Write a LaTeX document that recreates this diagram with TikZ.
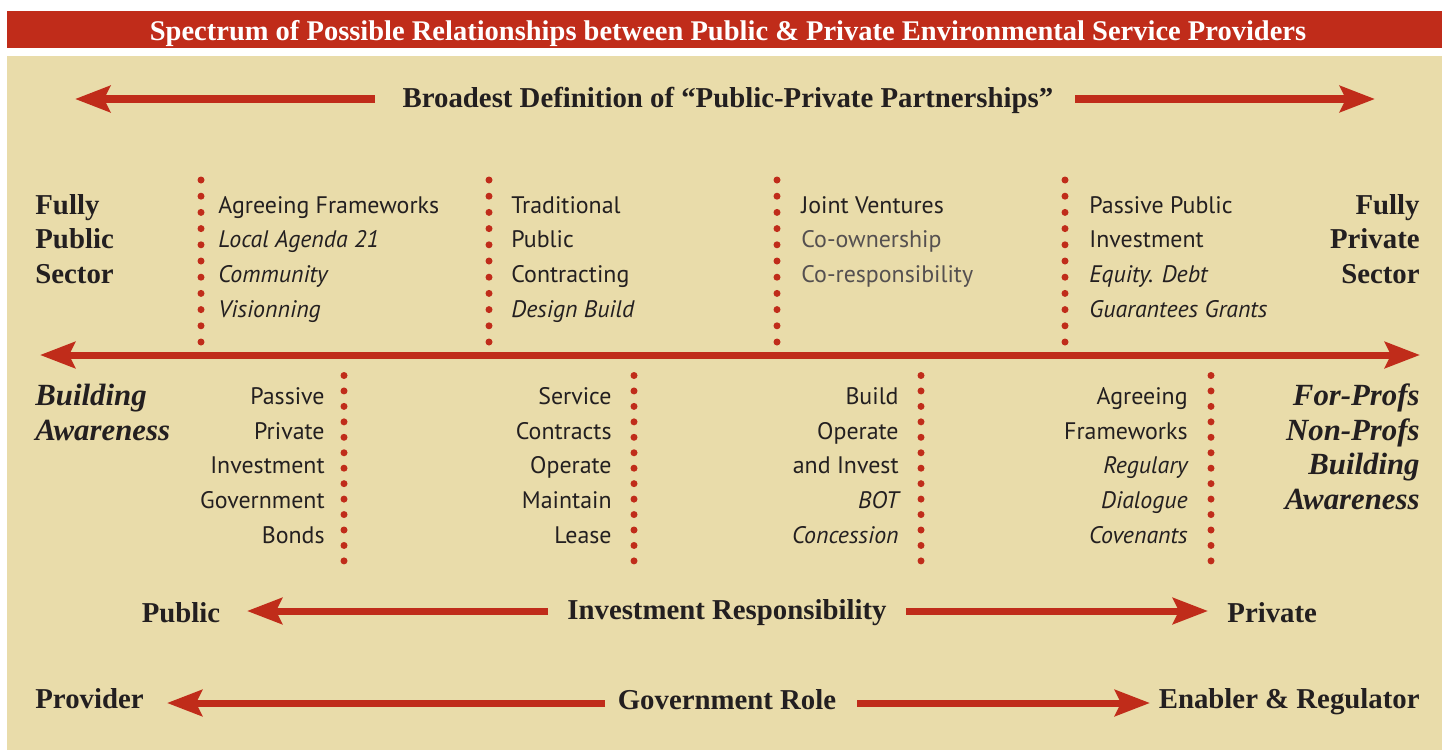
\documentclass[tikz,border=0pt]{standalone}
\usepackage{fontspec}
\setmainfont{Liberation Serif}
\newfontfamily\sansf{PT Sans}
\usetikzlibrary{arrows.meta}
\definecolor{barred}{RGB}{192,44,26}
\definecolor{beige}{RGB}{233,220,170}
\definecolor{ink}{RGB}{35,31,32}
\definecolor{lightink}{RGB}{85,80,80}
\tikzset{
  serifb/.style={font=\fontsize{14.4}{16}\selectfont\bfseries, text=ink, inner sep=0pt},
  serifbi/.style={font=\fontsize{15.4}{17}\selectfont\bfseries\itshape, text=ink, inner sep=0pt},
  sans/.style={font=\sansf\fontsize{11.95}{13}\selectfont, text=ink, inner sep=0pt},
  sansi/.style={font=\sansf\fontsize{11.95}{13}\selectfont\itshape, text=ink, inner sep=0pt},
  sansl/.style={font=\sansf\fontsize{11.95}{13}\selectfont, text=lightink, inner sep=0pt},
  bigarrow/.style={draw=barred, line width=4pt, -{Stealth[length=17.5pt, width=13pt, inset=3pt]}},
  midarrow/.style={draw=barred, line width=3.5pt, -{Stealth[length=17.5pt, width=13pt, inset=3pt]}},
  dot/.style={fill=barred, draw=none},
}
\begin{document}
\begin{tikzpicture}[x=0.5pt, y=-0.5pt]
\useasboundingbox (0,0) rectangle (1442,750);
\fill[white] (0,0) rectangle (1442,750);
\fill[barred] (7,11) rectangle (1442,48);
\fill[beige] (7,56) rectangle (1442,750);

% title
\node[serifb, font=\fontsize{14.25}{16}\selectfont\bfseries, text=white, anchor=base] (title) at (728,40.5) {Spectrum of Possible Relationships between Public \& Private Environmental Service Providers};

% broadest definition
\node[serifb, anchor=base] (broad) at (728,107.5) {Broadest Definition of “Public-Private Partnerships”};
\coordinate (bl0) at (375,99); \coordinate (bl1) at (75,99);
\coordinate (br0) at (1075,99); \coordinate (br1) at (1375,99);
\draw[bigarrow] (bl0) -- (bl1);
\draw[bigarrow] (br0) -- (br1);

% main spectrum arrow
\coordinate (ml) at (40,355); \coordinate (mr) at (1420,355);
\draw[midarrow, {Stealth[length=17.5pt, width=13pt, inset=3pt]}-{Stealth[length=17.5pt, width=13pt, inset=3pt]}] (ml) -- (mr);

% dotted separators
\foreach \x in {201,489,777,1065}{
  \foreach \i in {0,...,10}{
    \fill[dot] (\x,{180+16.2*\i}) circle (1.75pt);
  }
}
\foreach \x in {344,634,921,1211}{
  \foreach \i in {0,...,12}{
    \fill[dot] (\x,{375.5+15.45*\i}) circle (1.75pt);
  }
}

% left/right end labels (upper)
\node[serifb, anchor=base west] (fp1) at (35,214) {Fully};
\node[serifb, anchor=base west] (fp2) at (35,248) {Public};
\node[serifb, anchor=base west] (fp3) at (35,283) {Sector};
\node[serifb, anchor=base east] (fr1) at (1420,214) {Fully};
\node[serifb, anchor=base east] (fr2) at (1420,248) {Private};
\node[serifb, anchor=base east] (fr3) at (1420,283) {Sector};

% upper columns
\node[sans, anchor=base west] (a1) at (218,213) {Agreeing Frameworks};
\node[sansi, anchor=base west] (a2) at (218,247) {Local Agenda 21};
\node[sansi, anchor=base west] (a3) at (218,282) {Community};
\node[sansi, anchor=base west] (a4) at (218,317) {Visionning};

\node[sans, anchor=base west] (b1) at (511,213) {Traditional};
\node[sans, anchor=base west] (b2) at (511,247) {Public};
\node[sans, anchor=base west] (b3) at (511,282) {Contracting};
\node[sansi, anchor=base west] (b4) at (511,317) {Design Build};

\node[sans, anchor=base west] (c1) at (801,213) {Joint Ventures};
\node[sansl, anchor=base west] (c2) at (801,247) {Co-ownership};
\node[sansl, anchor=base west] (c3) at (801,282) {Co-responsibility};

\node[sans, anchor=base west] (d1) at (1089,213) {Passive Public};
\node[sans, anchor=base west] (d2) at (1089,247) {Investment};
\node[sansi, anchor=base west] (d3) at (1089,282) {Equity. Debt};
\node[sansi, anchor=base west] (d4) at (1089,317) {Guarantees Grants};

% lower end labels
\node[serifbi, anchor=base west] (ba1) at (35,405) {Building};
\node[serifbi, anchor=base west] (ba2) at (35,440) {Awareness};
\node[serifbi, anchor=base east] (rp1) at (1420,405) {For-Profs};
\node[serifbi, anchor=base east] (rp2) at (1420,440) {Non-Profs};
\node[serifbi, anchor=base east] (rp3) at (1420,474) {Building};
\node[serifbi, anchor=base east] (rp4) at (1420,509) {Awareness};

% lower columns
\node[sans, anchor=base east] (e1) at (325,404) {Passive};
\node[sans, anchor=base east] (e2) at (325,439) {Private};
\node[sans, anchor=base east] (e3) at (325,473) {Investment};
\node[sans, anchor=base east] (e4) at (325,508) {Government};
\node[sans, anchor=base east] (e5) at (325,543) {Bonds};

\node[sans, anchor=base east] (f1) at (612,404) {Service};
\node[sans, anchor=base east] (f2) at (612,439) {Contracts};
\node[sans, anchor=base east] (f3) at (612,473) {Operate};
\node[sans, anchor=base east] (f4) at (612,508) {Maintain};
\node[sans, anchor=base east] (f5) at (612,543) {Lease};

\node[sans, anchor=base east] (g1) at (899,404) {Build};
\node[sans, anchor=base east] (g2) at (899,439) {Operate};
\node[sans, anchor=base east] (g3) at (899,473) {and Invest};
\node[sansi, anchor=base east] (g4) at (899,508) {BOT};
\node[sansi, anchor=base east] (g5) at (899,543) {Concession};

\node[sans, anchor=base east] (h1) at (1188,404) {Agreeing};
\node[sans, anchor=base east] (h2) at (1188,439) {Frameworks};
\node[sansi, anchor=base east] (h3) at (1188,473) {Regulary};
\node[sansi, anchor=base east] (h4) at (1188,508) {Dialogue};
\node[sansi, anchor=base east] (h5) at (1188,543) {Covenants};

% investment responsibility
\node[serifb, anchor=base] (pub) at (181,622) {Public};
\node[serifb, anchor=base] (inv) at (727,619) {Investment Responsibility};
\node[serifb, anchor=base west] (priv) at (1227,622) {Private};
\coordinate (il0) at (548,611); \coordinate (il1) at (247,611);
\coordinate (ir0) at (906,611); \coordinate (ir1) at (1208,611);
\draw[midarrow] (il0) -- (il1);
\draw[midarrow] (ir0) -- (ir1);

% government role
\node[serifb, anchor=base west] (prov) at (35,708) {Provider};
\node[serifb, anchor=base] (gov) at (727,709) {Government Role};
\node[serifb, anchor=base east] (enab) at (1420,708) {Enabler \& Regulator};
\coordinate (gl0) at (605,703); \coordinate (gl1) at (167,703);
\coordinate (gr0) at (857,703); \coordinate (gr1) at (1150,703);
\draw[midarrow] (gl0) -- (gl1);
\draw[midarrow] (gr0) -- (gr1);
\end{tikzpicture}
\end{document}
